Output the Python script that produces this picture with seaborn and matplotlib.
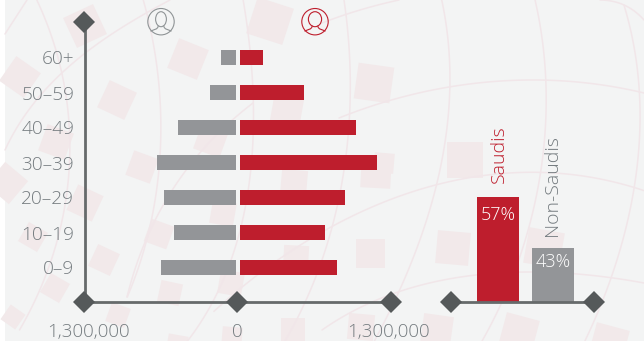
import numpy as np
import pandas as pd
import matplotlib
matplotlib.use("Agg")
import matplotlib.pyplot as plt
from matplotlib.patches import Rectangle, Circle, Ellipse, PathPatch
from matplotlib.path import Path
from matplotlib.transforms import Affine2D, ScaledTranslation
import seaborn as sns

# ---- data ----
ages = ["60+", "50–59", "40–49", "30–39", "20–29", "10–19", "0–9"]
male = [130000, 222000, 496000, 676000, 616000, 530000, 641000]
female = [197000, 547000, 992000, 1172000, 898000, 727000, 830000]
groups = ["Saudis", "Non-Saudis"]
shares = [57, 43]
axis_max = 1300000

RED = "#be1e2d"
GREY = "#939598"
TXT = "#747b7f"
LINE = "#666a6b"
DIA = "#55595a"
PINK = "#f2e9ea"

# ---- decoration (background texture, in pixels) ----
squares = [(85,26,33,-25),(20,77,30,35),(117,100,30,25),(188,59,32,22),(270,21,38,18),
           (287,110,30,10),(56,142,28,20),(211,140,28,20),(142,167,26,20),(374,83,36,8),
           (465,160,36,0),(384,163,20,5),(7,183,30,40),(85,203,28,25),(33,237,22,30),
           (159,234,24,20),(223,213,24,10),(104,260,24,25),(294,183,26,5),(55,288,22,30),
           (170,293,22,12),(231,283,24,10),(296,258,25,3),(13,317,18,35),(118,315,20,20),
           (293,330,24,0),(232,337,20,5),(177,345,20,10),(376,173,30,3),(371,253,29,0),
           (453,248,33,5),(544,248,36,10),(361,327,26,5),(437,330,30,8),(519,333,34,15),
           (609,343,34,15)]
curves = [[(38,0),(52,45),(68,110),(72,170),(55,240),(20,330)],
          [(143,0),(155,50),(160,100),(158,170),(150,230),(127,297)],
          [(243,0),(253,80),(250,170),(213,303),(187,341)],
          [(344,0),(350,67),(344,170),(322,260),(285,341)],
          [(442,0),(449,80),(439,180),(397,293),(375,341)],
          [(535,0),(546,80),(539,180),(519,260),(482,341)],
          [(624,5),(639,90),(637,170),(609,283),(585,341)],
          [(170,0),(157,7),(73,63),(5,150)],
          [(322,23),(360,10),(399,0)],
          [(600,0),(624,5),(644,20)],
          [(5,34),(27,0)],
          [(339,118),(449,87),(529,80),(644,93)],
          [(127,297),(190,165),(253,103)],
          [(213,310),(270,270),(322,232),(405,190),(529,175),(644,190)],
          [(322,330),(395,293),(529,272),(644,283)]]


def smooth(pts, n=80):
    pts = np.array(pts, float)
    seg = np.r_[0, np.cumsum(np.hypot(*np.diff(pts, axis=0).T))]
    deg = min(len(pts) - 1, 3)
    t = np.linspace(0, seg[-1], n)
    return np.polyval(np.polyfit(seg, pts[:, 0], deg), t), np.polyval(np.polyfit(seg, pts[:, 1], deg), t)


sns.set_theme(style="white")
plt.rcParams["font.family"] = ["Open Sans", "DejaVu Sans"]
plt.rcParams["font.weight"] = "light"

W, H = 644, 341
fig = plt.figure(figsize=(W / 100, H / 100), dpi=100, facecolor="white")


def px_axes(x0, y0, x1, y1, **kw):
    return fig.add_axes([x0 / W, 1 - y1 / H, (x1 - x0) / W, (y1 - y0) / H], **kw)


# background
bg = px_axes(0, 0, W, H, zorder=0)
bg.set_xlim(0, W); bg.set_ylim(H, 0); bg.axis("off")
bg.add_patch(Rectangle((5, 0), W - 5, H, color="#f3f4f4", lw=0))
for cx, cy, s, a in squares:
    r = Rectangle((-s / 2, -s / 2), s, s, color=PINK, lw=0,
                  transform=Affine2D().rotate_deg(a).translate(cx, cy) + bg.transData)
    bg.add_patch(r)
for c in curves:
    x, y = smooth(c)
    bg.plot(x, y, color="#f1e6e9", lw=1.1, solid_capstyle="round")

df = pd.DataFrame({"age": ages, "male": male, "female": female})
TOP, BASE = 21.5, 302
FIRST, STEP = 57.5, 35
ylim = ((BASE - FIRST) / STEP, (TOP - FIRST) / STEP)

# male side
axL = px_axes(84.5, TOP, 236, BASE, zorder=2)
sns.barplot(data=df, y="age", x="male", order=ages, color=GREY, saturation=1,
            width=15 / STEP, ax=axL, orient="h", linewidth=0, edgecolor="none")
axL.set_xlim(axis_max, 0)
axL.set_ylim(*ylim)
axL.set_xticks([axis_max, 0], ["1,300,000", "0"])
axL.set_xlabel(""); axL.set_ylabel("")

# female side
axR = px_axes(240, TOP, 392, BASE, zorder=2)
sns.barplot(data=df, y="age", x="female", order=ages, color=RED, saturation=1,
            width=15 / STEP, ax=axR, orient="h", linewidth=0, edgecolor="none")
axR.set_xlim(0, axis_max)
axR.set_ylim(*ylim)
axR.set_xticks([axis_max], ["1,300,000"])
axR.set_yticks([])
axR.set_xlabel(""); axR.set_ylabel("")

for ax in (axL, axR):
    ax.patch.set_alpha(0)
    ax.tick_params(axis="x", length=0, pad=15, labelsize=13.5, labelcolor=TXT)
    ax.tick_params(axis="y", length=0, pad=7.3, labelsize=13.7, labelcolor=TXT)
    for s in ("top", "right"):
        ax.spines[s].set_visible(False)
    ax.spines["bottom"].set_color(LINE); ax.spines["bottom"].set_linewidth(2)
    ax.spines["left"].set_color(LINE); ax.spines["left"].set_linewidth(2)
axR.spines["left"].set_visible(False)

# the outer value labels sit slightly inward of their diamonds
for lab, dx in ((axL.get_xticklabels()[0], 3.5), (axL.get_xticklabels()[1], 1), (axR.get_xticklabels()[0], -4)):
    lab.set_transform(lab.get_transform() + ScaledTranslation(dx / 100, 0, fig.dpi_scale_trans))

# share chart
axS = px_axes(452, 100, 594, BASE, zorder=2)
sf = pd.DataFrame({"group": groups, "share": shares})
sns.barplot(data=sf, x="group", y="share", hue="group", palette=[RED, GREY], saturation=1,
            width=42 / 55, legend=False, ax=axS, linewidth=0, edgecolor="none")
axS.set_xlim(-46 / 55, 96 / 55)
axS.set_ylim(28.2, 28.2 + 202 / 3.64)
axS.set_xticks([]); axS.set_yticks([])
axS.set_xlabel(""); axS.set_ylabel("")
axS.patch.set_alpha(0)
for s in ("top", "right", "left"):
    axS.spines[s].set_visible(False)
axS.spines["bottom"].set_color(LINE); axS.spines["bottom"].set_linewidth(2)
name_offset = [(1, 10), (-0.5, 8.6)]
value_offset = [-6.5, -3.5]
for i, (g, v) in enumerate(zip(groups, shares)):
    c = RED if i == 0 else TXT
    axS.annotate(g, (i, v), xytext=name_offset[i], textcoords="offset points", rotation=90,
                 ha="center", va="bottom", color=c, fontsize=14)
    axS.annotate(f"{v}%", (i, v), xytext=(0, value_offset[i]), textcoords="offset points",
                 ha="center", va="top", color="white", fontsize=13)

# foreground: diamonds and icons
fg = px_axes(0, 0, W, H, zorder=5)
fg.set_xlim(0, W); fg.set_ylim(H, 0); fg.axis("off"); fg.patch.set_alpha(0)
fg.plot([84.3, 84.3, 237.5, 391, 451.5, 594.5], [21.7, 302.3, 302.3, 302.3, 302.3, 302.3],
        ls="", marker="D", ms=11.5, color=DIA, mew=0)


def person(cx, cy, color, long_hair):
    fg.add_patch(Circle((cx, cy), 13.2, fill=False, ec=color, lw=0.8))
    rx = 6.6 if long_hair else 5.4
    fg.add_patch(Ellipse((cx, cy - 2.5), 2 * rx, 15, fill=False, ec=color, lw=0.8))
    for sgn in (-1, 1):
        verts = [(cx + sgn * 2.8, cy + 4), (cx + sgn * 2.8, cy + 8),
                 (cx + sgn * 8, cy + 8), (cx + sgn * 10.5, cy + 9.5)]
        fg.add_patch(PathPatch(Path(verts, [Path.MOVETO, Path.CURVE4, Path.CURVE4, Path.CURVE4]),
                               fill=False, ec=color, lw=0.8))


person(161, 21.7, "#8f9496", False)
person(315, 21.7, RED, True)

fig.savefig("out.png", dpi=100, facecolor="white")
